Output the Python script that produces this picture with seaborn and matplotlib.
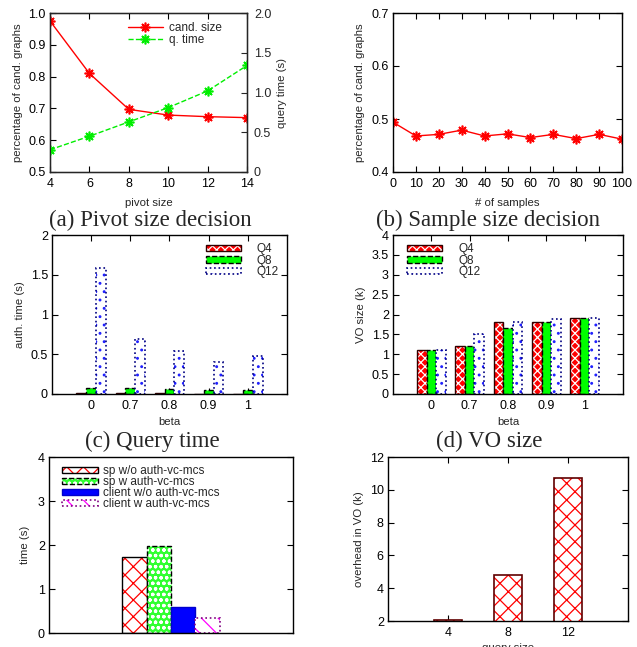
import numpy as np
import pandas as pd
import matplotlib
matplotlib.use("Agg")
import matplotlib.pyplot as plt
import matplotlib.colors as mcolors
import seaborn as sns

# ---------------- data ----------------
pivot_sizes = [4, 6, 8, 10, 12, 14]
cand_size = [0.975, 0.810, 0.697, 0.679, 0.674, 0.671]
q_time = [0.28, 0.45, 0.63, 0.81, 1.02, 1.34]

samples = [0, 10, 20, 30, 40, 50, 60, 70, 80, 90, 100]
cand_by_samples = [0.494, 0.468, 0.471, 0.479, 0.468, 0.472, 0.465, 0.471, 0.463, 0.471, 0.462]

betas = ["0", "0.7", "0.8", "0.9", "1"]
query_names = ["Q4", "Q8", "Q12"]
auth_q4 = [0.01, 0.008, 0.008, 0.006, 0.006]
auth_q8 = [0.08, 0.07, 0.06, 0.05, 0.05]
auth_q12 = [1.58, 0.69, 0.54, 0.40, 0.48]

vo_q4 = [1.10, 1.22, 1.80, 1.80, 1.90]
vo_q8 = [1.10, 1.22, 1.67, 1.82, 1.90]
vo_q12 = [1.10, 1.50, 1.80, 1.88, 1.90]

setting = ["all"]
method_names = ["sp w/o auth-vc-mcs", "sp w auth-vc-mcs",
                "client w/o auth-vc-mcs", "client w auth-vc-mcs"]
method_times = [1.73, 1.97, 0.59, 0.34]

query_sizes = ["4", "8", "12"]
vo_overhead = [2.08, 4.8, 10.7]

# ---------------- style ----------------
sns.set_style("ticks")
plt.rcParams["font.family"] = ["Liberation Sans", "DejaVu Sans"]
plt.rcParams["hatch.linewidth"] = 0.9
TICK_FS = 9
LABEL_FS = 8.2
LEG_FS = 8.5
CAP_FONT = dict(family=["Liberation Serif", "DejaVu Serif"], fontsize=16.5)

W, H = 637, 647
fig = plt.figure(figsize=(W / 100, H / 100), dpi=100)


def add_ax(l, r, t, b):
    return fig.add_axes([l / W, 1 - b / H, (r - l) / W, (b - t) / H])


def gnuplot_axes(ax, right=True, top=True):
    for s in ax.spines.values():
        s.set_visible(True)
        s.set_color("black")
        s.set_linewidth(1.0)
    ax.tick_params(direction="in", length=4, width=0.8, top=top, right=right,
                   labelsize=TICK_FS, colors="black", pad=3)
    ax.tick_params(axis="x", pad=4)


def style_patch(p, face, hatch, hatchcol, edge, ls, lw):
    p.set_facecolor(face)
    p.set_hatch(hatch)
    if hasattr(p, "set_hatchcolor"):
        p.set_edgecolor(edge)
        p.set_hatchcolor(hatchcol)
    else:
        p.set_edgecolor(hatchcol)
        p._edgecolor = mcolors.to_rgba(edge)
    p.set_linestyle(ls)
    p.set_linewidth(lw)


def caption(x, y, text):
    fig.text(x / W, 1 - y / H, text, ha="center", va="center", **CAP_FONT)


MARK = (8, 2, 0)
RED = "#ff0000"
GREEN = "#00ee00"

# ---------------- (a) ----------------
axa = add_ax(50, 247, 13, 172)
sns.lineplot(x=pivot_sizes, y=cand_size, ax=axa, color=RED, marker=MARK,
             markersize=7, markeredgewidth=1.2, markeredgecolor=RED, linewidth=1.0,
             label="cand. size", legend=False)
axa2 = axa.twinx()
sns.lineplot(x=pivot_sizes, y=q_time, ax=axa2, color=GREEN, marker=MARK,
             markersize=7, markeredgewidth=1.2, markeredgecolor=GREEN, linewidth=1.0,
             linestyle="--", label="q. time", legend=False)
axa.set_xlim(4, 14)
axa.set_ylim(0.5, 1.0)
axa2.set_ylim(0, 2.0)
axa.set_xticks(pivot_sizes)
axa.set_yticks([0.5, 0.6, 0.7, 0.8, 0.9, 1.0])
axa.set_yticklabels(["0.5", "0.6", "0.7", "0.8", "0.9", "1.0"])
axa2.set_yticks([0, 0.5, 1.0, 1.5, 2.0])
axa2.set_yticklabels(["0", "0.5", "1.0", "1.5", "2.0"])
gnuplot_axes(axa, right=False)
axa2.tick_params(direction="in", length=4, width=0.8, labelsize=TICK_FS, pad=5)
axa.set_xlabel("pivot size", fontsize=LABEL_FS, labelpad=6)
axa.set_ylabel("percentage of cand. graphs", fontsize=LABEL_FS, labelpad=4)
axa2.set_ylabel("query time (s)", fontsize=LABEL_FS, labelpad=4)
h1, l1 = axa.get_legend_handles_labels()
h2, l2 = axa2.get_legend_handles_labels()
axa2.legend(h1 + h2, l1 + l2, loc="upper left", bbox_to_anchor=(0.37, 0.975), frameon=False,
            fontsize=LEG_FS, handlelength=3.0, labelspacing=0.0, handletextpad=0.5,
            borderaxespad=0.0)
caption(150, 220, "(a) Pivot size decision")

# ---------------- (b) ----------------
axb = add_ax(393, 622, 13, 172)
sns.lineplot(x=samples, y=cand_by_samples, ax=axb, color=RED, marker=MARK,
             markersize=7, markeredgewidth=1.2, markeredgecolor=RED, linewidth=1.0)
axb.set_xlim(0, 100)
axb.set_ylim(0.4, 0.7)
axb.set_xticks(samples)
axb.set_yticks([0.4, 0.5, 0.6, 0.7])
axb.set_yticklabels(["0.4", "0.5", "0.6", "0.7"])
gnuplot_axes(axb)
axb.set_xlabel("# of samples", fontsize=LABEL_FS, labelpad=6)
axb.set_ylabel("percentage of cand. graphs", fontsize=LABEL_FS, labelpad=5)
caption(488, 220, "(b) Sample size decision")

# ---------------- bar styles for (c)/(d) ----------------
Q_STYLES = [
    dict(face="#ff0000", hatch="xxxx", hatchcol="white", edge="#300000", ls="-", lw=1.0),
    dict(face="#00ff00", hatch="", hatchcol="#00ff00", edge="black", ls="--", lw=1.0),
    dict(face="white", hatch="..", hatchcol="#2020ff", edge="#000080", ls=":", lw=1.2),
]


def q_bars(ax, v4, v8, v12):
    df = pd.DataFrame({
        "beta": betas * 3,
        "val": v4 + v8 + v12,
        "q": [query_names[0]] * len(betas) + [query_names[1]] * len(betas) + [query_names[2]] * len(betas),
    })
    sns.barplot(data=df, x="beta", y="val", hue="q", order=betas, hue_order=query_names,
                ax=ax, width=0.75, saturation=1, legend=False, errorbar=None,
                palette=["#ff0000", "#00ff00", "white"])
    for cont, st in zip(ax.containers, Q_STYLES):
        for p in cont.patches:
            style_patch(p, **st)
    ax.set_xlim(-1, len(betas))
    return [c.patches[0] for c in ax.containers]


LEG_Q = dict(frameon=False, fontsize=LEG_FS, handlelength=3.0, handleheight=0.45,
             labelspacing=-0.05, borderaxespad=0.3)

# ---------------- (c) ----------------
axc = add_ax(52, 287, 235, 394)
hc = q_bars(axc, auth_q4, auth_q8, auth_q12)
axc.set_ylim(0, 2)
axc.set_yticks([0, 0.5, 1, 1.5, 2])
axc.set_yticklabels(["0", "0.5", "1", "1.5", "2"])
gnuplot_axes(axc)
axc.set_xlabel("beta", fontsize=LABEL_FS, labelpad=4)
axc.set_ylabel("auth. time (s)", fontsize=LABEL_FS, labelpad=4)
axc.legend(hc, query_names, loc="upper right", bbox_to_anchor=(1.0, 1.0),
           handletextpad=1.3, **LEG_Q)
caption(152, 441, "(c) Query time")

# ---------------- (d) ----------------
axd = add_ax(393, 623, 235, 394)
hd = q_bars(axd, vo_q4, vo_q8, vo_q12)
axd.set_ylim(0, 4)
yt = [0, 0.5, 1, 1.5, 2, 2.5, 3, 3.5, 4]
axd.set_yticks(yt)
axd.set_yticklabels(["%g" % v for v in yt])
gnuplot_axes(axd)
axd.set_xlabel("beta", fontsize=LABEL_FS, labelpad=4)
axd.set_ylabel("VO size (k)", fontsize=LABEL_FS, labelpad=4)
axd.legend(hd, query_names, loc="upper left", bbox_to_anchor=(0.025, 1.0),
           handletextpad=1.4, **LEG_Q)
caption(489, 441, "(d) VO size")

# ---------------- (e) ----------------
axe = add_ax(49, 293, 457, 633)
dfe = pd.DataFrame({"s": setting * len(method_names), "t": method_times, "m": method_names})
sns.barplot(data=dfe, x="s", y="t", hue="m", hue_order=method_names, ax=axe, width=0.8,
            saturation=1, legend=False, errorbar=None,
            palette=["#ff0000", "#00ff00", "#0000ff", "#ff00ff"])
E_STYLES = [
    dict(face="white", hatch="xx", hatchcol="#ff0000", edge="black", ls="-", lw=1.0),
    dict(face="#30ff30", hatch="ooo", hatchcol="white", edge="black", ls="--", lw=1.0),
    dict(face="#0000ff", hatch="", hatchcol="#0000ff", edge="#0000cc", ls="-", lw=1.0),
    dict(face="white", hatch="\\\\", hatchcol="#ff00ff", edge="#800080", ls=":", lw=1.2),
]
for cont, st in zip(axe.containers, E_STYLES):
    for p in cont.patches:
        style_patch(p, **st)
axe.set_xlim(-1, 1)
axe.set_ylim(0, 4)
axe.set_yticks([0, 1, 2, 3, 4])
gnuplot_axes(axe, top=False)
axe.tick_params(axis="x", bottom=False, labelbottom=False)
axe.set_xlabel("")
axe.set_ylabel("time (s)", fontsize=LABEL_FS, labelpad=6)
axe.legend([c.patches[0] for c in axe.containers], method_names, loc="upper left",
           bbox_to_anchor=(0.02, 1.0), frameon=False, fontsize=LEG_FS, handlelength=3.0,
           handleheight=0.45, labelspacing=-0.08, handletextpad=0.5, borderaxespad=0.3)

# ---------------- (f) ----------------
axf = add_ax(388, 628, 457, 621)
sns.barplot(x=query_sizes, y=vo_overhead, order=query_sizes, ax=axf, width=0.46,
            saturation=1, errorbar=None, color="white")
for p in axf.patches:
    style_patch(p, face="white", hatch="xx", hatchcol="#ff0000", edge="#600000", ls="-", lw=1.2)
axf.set_xlim(-1, len(query_sizes))
axf.set_ylim(2, 12)
axf.set_yticks([2, 4, 6, 8, 10, 12])
gnuplot_axes(axf)
axf.set_xlabel("query size", fontsize=LABEL_FS, labelpad=3)
axf.set_ylabel("overhead in VO (k)", fontsize=LABEL_FS, labelpad=4)

fig.savefig("out.png", dpi=100)
